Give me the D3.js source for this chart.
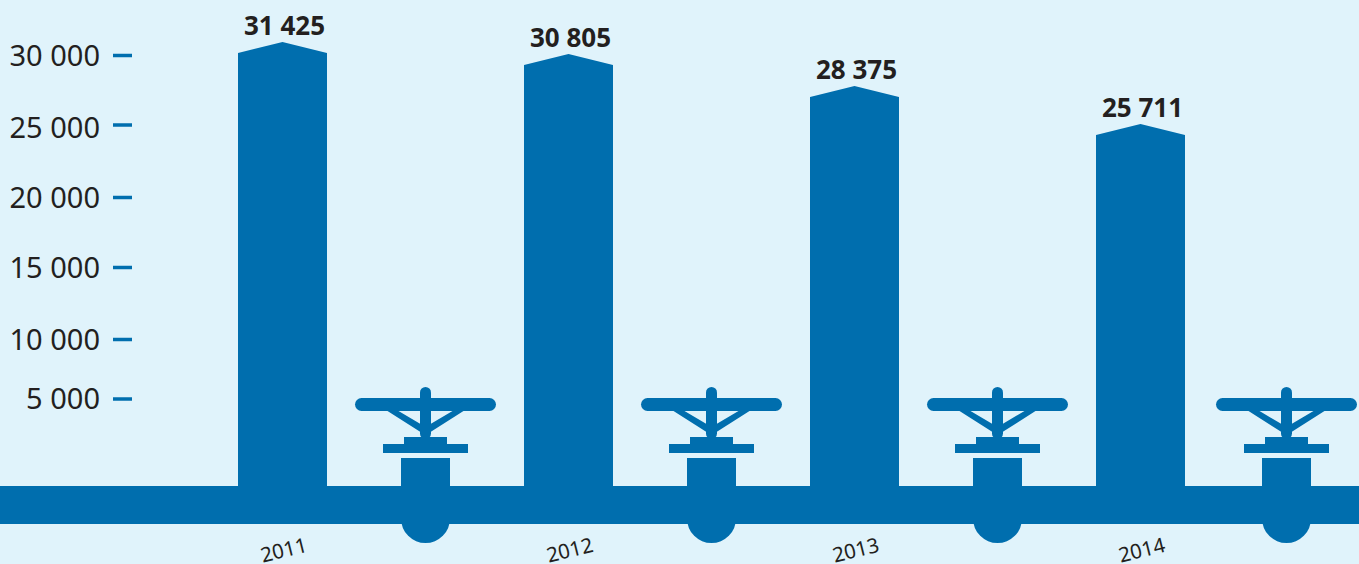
<!DOCTYPE html>
<html><head><meta charset="utf-8">
<script src="https://cdn.jsdelivr.net/npm/d3@7"></script>
<style>html,body{margin:0;padding:0;background:#e0f3fb;overflow:hidden}svg{display:block}text{font-family:"Noto Sans",sans-serif;fill:#231f20}</style>
</head><body><script>
const years = [2011, 2012, 2013, 2014];
const values = [31425, 30805, 28375, 25711];
const valueLabels = ["31 425", "30 805", "28 375", "25 711"];
const tickValues = [5000, 10000, 15000, 20000, 25000, 30000];
const tickLabels = ["5 000", "10 000", "15 000", "20 000", "25 000", "30 000"];

const W = 1359, H = 564, blue = "#006eae";
const svg = d3.select("body").append("svg").attr("width", W).attr("height", H);
svg.append("rect").attr("width", W).attr("height", H).attr("fill", "#e0f3fb");

const x = d3.scalePoint().domain(years).range([282.5, 1140.5]);
const xValve = d3.scaleOrdinal().domain(years).range([425.5, 711.5, 997.5, 1286.5]);
const y = d3.scaleLinear().domain([25711, 28375, 30805, 31425]).range([124, 86, 54, 42]);
const yAxis = d3.scaleLinear().domain(tickValues).range([399, 339.5, 267.5, 197.5, 125, 55.5]);
const yLabel = d3.scaleLinear().domain(tickValues).range([399, 339.5, 267.5, 197.5, 128, 55.5]);
const barW = 89, shoulder = 11;

// axis
const ax = svg.append("g").attr("class", "y-axis");
ax.selectAll("line").data(tickValues).join("line")
  .attr("x1", 113).attr("x2", 132).attr("y1", d => yAxis(d)).attr("y2", d => yAxis(d))
  .attr("stroke", blue).attr("stroke-width", 3.5);
ax.selectAll("text").data(tickValues).join("text")
  .attr("x", 100).attr("y", d => yLabel(d) + 10).attr("text-anchor", "end").attr("font-size", 29)
  .text((d, i) => tickLabels[i]);

// pipe
svg.append("rect").attr("x", 0).attr("y", 486).attr("width", W).attr("height", 38).attr("fill", blue);

// bars
svg.selectAll("path.bar").data(values).join("path").attr("class", "bar").attr("fill", blue)
  .attr("d", (d, i) => {
    const c = x(years[i]), t = y(d);
    return `M${c - barW / 2},490 V${t + shoulder} L${c},${t} L${c + barW / 2},${t + shoulder} V490 Z`;
  });

svg.selectAll("text.val").data(values).join("text").attr("class", "val")
  .attr("x", (d, i) => x(years[i]) + 2).attr("y", d => y(d) - 7)
  .attr("text-anchor", "middle").attr("font-size", 26).attr("font-weight", 700)
  .text((d, i) => valueLabels[i]);

// valves
const valve = svg.selectAll("g.valve").data(years).join("g").attr("class", "valve")
  .attr("transform", d => `translate(${xValve(d)},0)`).attr("fill", blue);
valve.append("rect").attr("x", -70.5).attr("y", 398).attr("width", 141).attr("height", 13).attr("rx", 6.5);
valve.append("rect").attr("x", -5.5).attr("y", 387).attr("width", 11).attr("height", 52).attr("rx", 5.5);
valve.append("path").attr("d", "M-38,411 H-27 L-5,424 V432 Z M38,411 H27 L5,424 V432 Z");
valve.append("rect").attr("x", -21.5).attr("y", 437).attr("width", 43).attr("height", 8);
valve.append("rect").attr("x", -42.5).attr("y", 444).attr("width", 85).attr("height", 9);
valve.append("path").attr("d", "M-24.5,458 H24.5 V518.5 A24.5,24.5 0 0 1 -24.5,518.5 Z");

// year labels
svg.selectAll("text.year").data(years).join("text").attr("class", "year")
  .attr("transform", d => `translate(${x(d) + 3},557) rotate(-14)`)
  .attr("text-anchor", "middle").attr("font-size", 20.5).text(d => d);
</script></body></html>
